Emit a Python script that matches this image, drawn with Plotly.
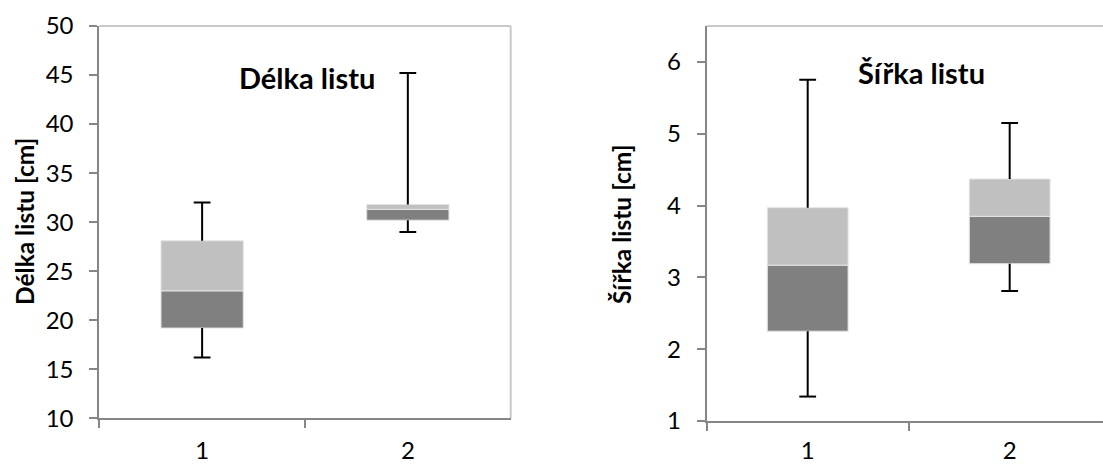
import plotly.graph_objects as go

# Leaf measurements: five-number summaries for two groups
categories = ["1", "2"]

delka_min = [16.2, 29.0]
delka_q1 = [19.2, 30.2]
delka_median = [23.0, 31.3]
delka_q3 = [28.1, 31.8]
delka_max = [32.0, 45.2]

sirka_min = [1.34, 2.81]
sirka_q1 = [2.25, 3.19]
sirka_median = [3.17, 3.85]
sirka_q3 = [3.97, 4.37]
sirka_max = [5.75, 5.15]

delka_ticks = [10, 15, 20, 25, 30, 35, 40, 45, 50]
sirka_ticks = [1, 2, 3, 4, 5, 6]

DARK = "#808080"
LIGHT = "#C0C0C0"
AXIS = "#868686"
BORDER = "#C8C8C8"
FONT = "Lato"

fig = go.Figure()


def add_box(xa, ya, mn, q1, med, q3, mx):
    lower = [m - a for m, a in zip(med, q1)]
    upper = [b - m for b, m in zip(q3, med)]
    fig.add_trace(go.Bar(x=categories, y=lower, base=q1, width=0.4,
                         marker=dict(color=DARK, line=dict(color="#E4E4E4", width=1)),
                         xaxis=xa, yaxis=ya, showlegend=False))
    fig.add_trace(go.Bar(x=categories, y=upper, base=med, width=0.4,
                         marker=dict(color=LIGHT, line=dict(color="#E4E4E4", width=1)),
                         xaxis=xa, yaxis=ya, showlegend=False))
    # whisker stems: Q3 -> max and Q1 -> min
    wx, wy = [], []
    for c, a, b, lo, hi in zip(categories, q1, q3, mn, mx):
        wx += [c, c, None, c, c, None]
        wy += [b, hi, None, a, lo, None]
    fig.add_trace(go.Scatter(x=wx, y=wy, mode="lines",
                             line=dict(color="black", width=2),
                             xaxis=xa, yaxis=ya, showlegend=False))
    # whisker caps at min and max
    fig.add_trace(go.Scatter(x=categories + categories, y=mn + mx, mode="markers",
                             marker=dict(symbol="line-ew", size=12,
                                         line=dict(color="black", width=2)),
                             xaxis=xa, yaxis=ya, showlegend=False))


add_box("x", "y", delka_min, delka_q1, delka_median, delka_q3, delka_max)
add_box("x2", "y2", sirka_min, sirka_q1, sirka_median, sirka_q3, sirka_max)

tickfont = dict(family=FONT, size=24, color="black")
xcommon = dict(type="category", tickson="boundaries", ticks="outside", ticklen=8,
               tickwidth=2, tickcolor=AXIS, showline=True, linecolor=AXIS, linewidth=2,
               showgrid=False, zeroline=False, tickfont=tickfont,
               automargin=False, fixedrange=True)
ycommon = dict(ticks="outside", ticklen=8, tickwidth=2, tickcolor=AXIS, showline=True,
               linecolor=AXIS, linewidth=2, showgrid=False, zeroline=False,
               tickfont=tickfont, ticklabelstandoff=11, automargin=False, fixedrange=True)

fig.update_layout(
    width=1103, height=464, autosize=False,
    margin=dict(l=0, r=0, t=0, b=0, pad=0),
    paper_bgcolor="white", plot_bgcolor="white",
    barmode="overlay", showlegend=False,
    xaxis=dict(domain=[0.0900, 0.4630], range=[-0.5, 1.5], anchor="y",
               ticklabelstandoff=10, **xcommon),
    yaxis=dict(domain=[0.0985, 0.944], range=[10, 50], tickvals=delka_ticks,
               anchor="x", **ycommon),
    xaxis2=dict(domain=[0.6407, 1.0], range=[-0.5, 1.462], anchor="y2",
                ticklabelstandoff=7, **xcommon),
    yaxis2=dict(domain=[0.0927, 0.944], range=[1, 6.5], tickvals=sirka_ticks,
                anchor="x2", **ycommon),
)

# light plot-area border (top and right)
fig.add_shape(type="line", xref="x domain", yref="y domain", x0=0, x1=1, y0=1, y1=1,
              line=dict(color=BORDER, width=2), layer="below")
fig.add_shape(type="line", xref="x domain", yref="y domain", x0=1, x1=1, y0=0, y1=1,
              line=dict(color=BORDER, width=2), layer="below")
fig.add_shape(type="line", xref="x2 domain", yref="y2 domain", x0=0, x1=1, y0=1, y1=1,
              line=dict(color=BORDER, width=2), layer="below")

title_font = dict(family=FONT, size=29, color="black")
axis_title_font = dict(family=FONT, size=24.5, color="black")
common_ann = dict(xref="paper", yref="paper", showarrow=False,
                  xanchor="center", yanchor="middle")
fig.add_annotation(text="<b>Délka listu</b>", x=0.2783, y=0.832,
                   font=title_font, **common_ann)
fig.add_annotation(text="<b>Šířka listu</b>", x=0.8356, y=0.8427,
                   font=title_font, **common_ann)
fig.add_annotation(text="<b>Délka listu [cm]</b>", x=0.0227, y=0.5216, textangle=-90,
                   font=axis_title_font, **common_ann)
fig.add_annotation(text="<b>Šířka listu [cm]</b>", x=0.563, y=0.517, textangle=-90,
                   font=axis_title_font, **common_ann)

fig.write_html("out.html")
